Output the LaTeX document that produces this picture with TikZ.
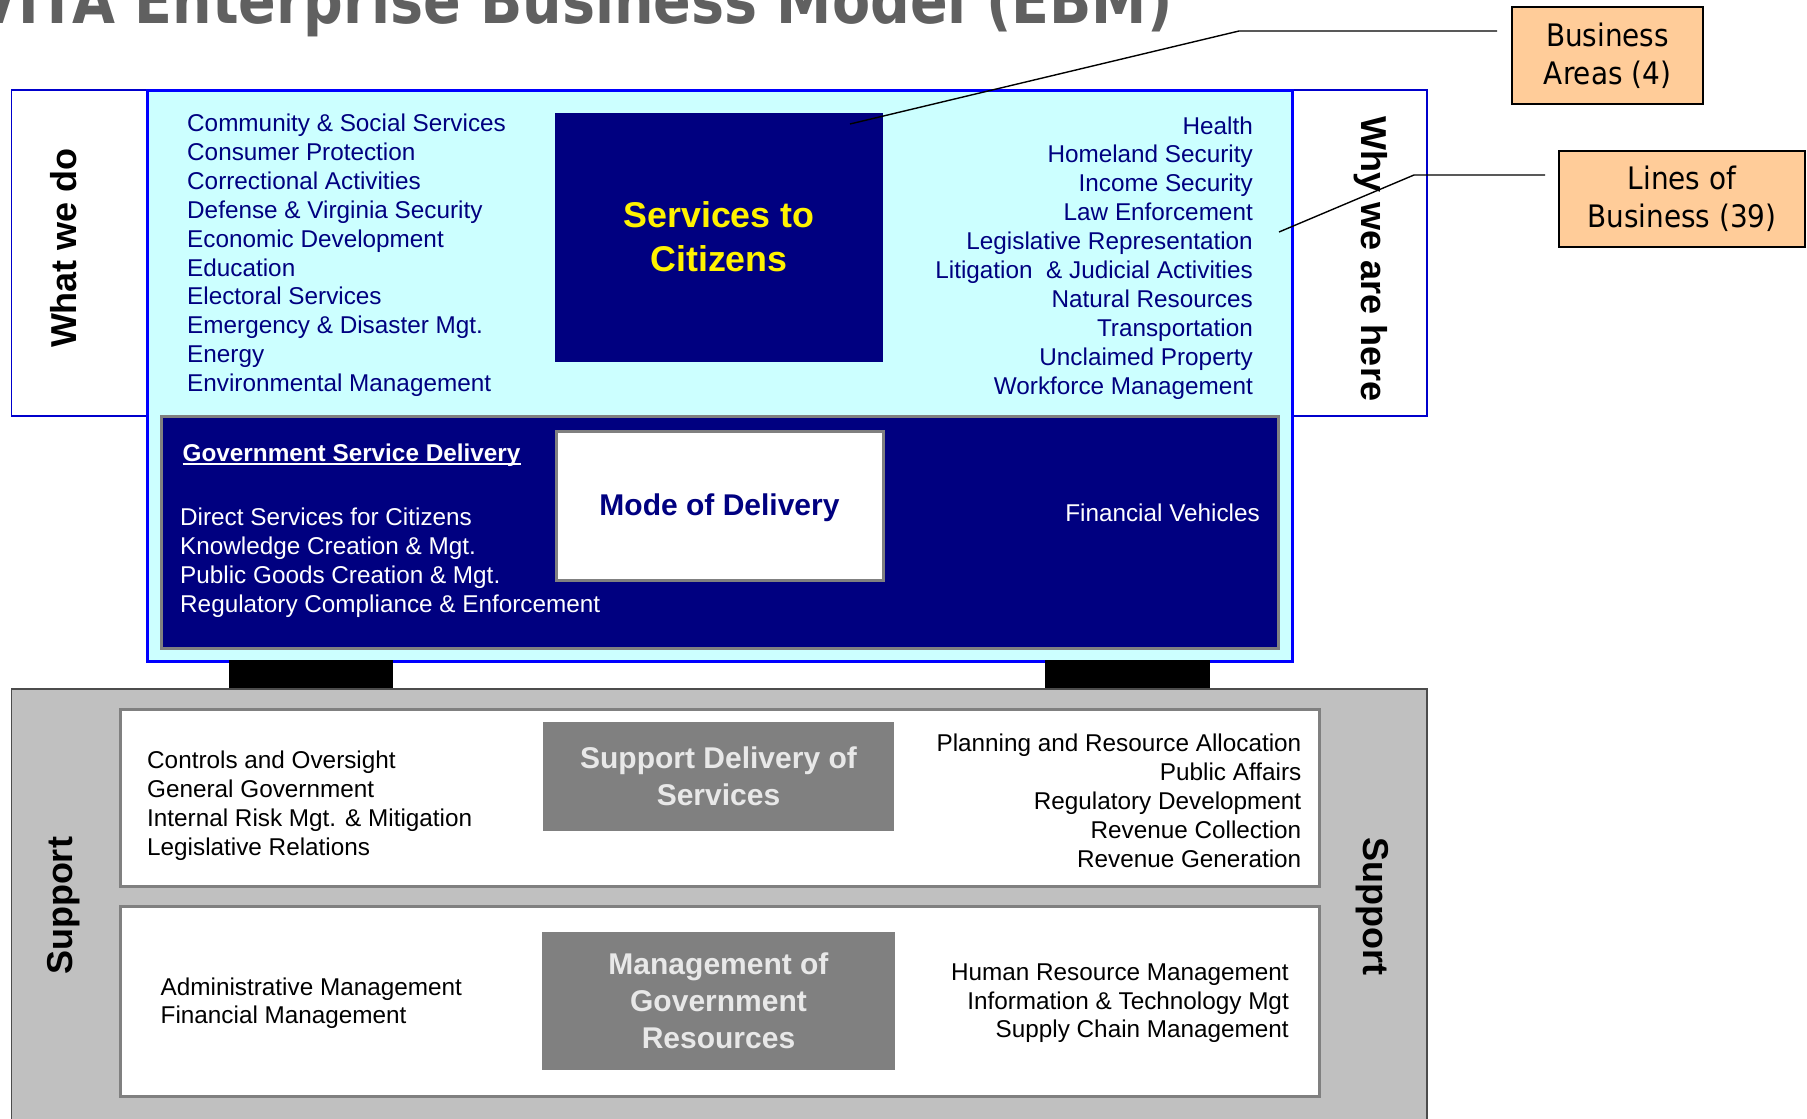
\documentclass[tikz,border=0pt]{standalone}
\usepackage{fontspec}
\setmainfont{Liberation Sans}
\newfontfamily\tah[FakeStretch=0.9]{DejaVu Sans}
\newfontfamily\tit[FakeStretch=0.86]{DejaVu Sans}
\definecolor{navy}{HTML}{000080}
\definecolor{cyanbg}{HTML}{CCFFFF}
\definecolor{peach}{HTML}{FFCC99}
\definecolor{midgray}{HTML}{808080}
\definecolor{silver}{HTML}{C0C0C0}
\definecolor{titlegray}{HTML}{606060}
\definecolor{edgeblue}{HTML}{0000FF}
\definecolor{thinblue}{HTML}{0000CC}
\definecolor{lightt}{HTML}{E8E8E8}
\tikzset{
  panel/.style={anchor=north west, inner sep=0, outer sep=0},
  list/.style={inner sep=0, font=\fontsize{24.3}{29}\selectfont},
  side/.style={inner sep=0, font=\bfseries\fontsize{36}{40}\selectfont},
  callout/.style={draw=black, line width=1.6pt, fill=peach, align=center, inner sep=0,
    font=\tah\fontsize{31}{38}\selectfont},
  pointer/.style={draw=black, line width=1.4pt},
}
\begin{document}
\begin{tikzpicture}[x=1pt,y=-1pt]
\useasboundingbox (0,0) rectangle (1807,1119);
% title
\node[anchor=base west, inner sep=0, text=titlegray, font=\tit\bfseries\fontsize{64.6}{70}\selectfont] (title) at (-25,23.5) {VITA Enterprise Business Model (EBM)};
% what we do / why we are here band
\node[panel, draw=thinblue, line width=1.2pt, fill=white, minimum width=1415.5, minimum height=326] (band) at (11.5,90) {};
\node[panel, draw=edgeblue, line width=3pt, fill=cyanbg, minimum width=1144.5, minimum height=571] (cyanbox) at (147.5,90) {};
\node[panel, fill=navy, minimum width=328, minimum height=249] (stc) at (555,113) {};
\node[align=center, text=yellow, font=\bfseries\fontsize{35.8}{44}\selectfont, inner sep=0] (stctext) at (719,237) {Services to\\Citizens};
\foreach \t [count=\i from 0] in {Community \& Social Services, Consumer Protection, Correctional Activities, Defense \& Virginia Security, Economic Development, Education, Electoral Services, Emergency \& Disaster Mgt., Energy, Environmental Management}
  \node[list, text=navy, anchor=base west] (cl\i) at (187,{131.5+28.9*\i}) {\t};
\foreach \t [count=\i from 0] in {Health, Homeland Security, Income Security, Law Enforcement, Legislative Representation, Litigation\ \ \& Judicial Activities, Natural Resources, Transportation, Unclaimed Property, Workforce Management}
  \node[list, text=navy, anchor=base east] (cr\i) at (1253,{134+28.95*\i}) {\t};
\node[rotate=90, side] (wwd) at (64,248) {What we do};
\node[rotate=-90, side] (wwh) at (1371,259) {Why we are here};
% government service delivery
\node[panel, draw=midgray, line width=3pt, fill=navy, minimum width=1117, minimum height=232] (gsdbox) at (161,416.5) {};
\node[panel, draw=midgray, line width=3pt, fill=white, minimum width=327, minimum height=149] (mod) at (556,431) {};
\node[inner sep=0, text=navy, font=\bfseries\fontsize{30}{36}\selectfont] (modtext) at (719.5,508) {Mode of Delivery};
\node[list, text=white, anchor=base west, font=\bfseries\fontsize{24.3}{29}\selectfont] (gsd) at (182.5,461) {Government Service Delivery};
\draw[white, line width=1.6pt] ([yshift=-3pt]gsd.base west) -- ([yshift=-3pt]gsd.base east);
\foreach \t [count=\i from 0] in {Direct Services for Citizens, Knowledge Creation \& Mgt., Public Goods Creation \& Mgt., Regulatory Compliance \& Enforcement}
  \node[list, text=white, anchor=base west] (gl\i) at (180,{525.5+29*\i}) {\t};
\node[list, text=white, anchor=east] (fv) at (1260,513) {Financial Vehicles};
% pillars
\node[panel, fill=black, minimum width=164.5, minimum height=30] (barl) at (228.5,660) {};
\node[panel, fill=black, minimum width=165, minimum height=30] (barr) at (1045,660) {};
% support
\node[panel, draw=black!70, line width=1.2pt, fill=silver, minimum width=1415.5, minimum height=460] (supp) at (11.5,689) {};
\node[panel, draw=midgray, line width=3pt, fill=white, minimum width=1199, minimum height=177] (sb1) at (120,709) {};
\node[panel, draw=midgray, line width=3pt, fill=white, minimum width=1199, minimum height=190] (sb2) at (120,906) {};
\node[panel, fill=midgray, minimum width=351, minimum height=109] (sds) at (543,722) {};
\node[panel, fill=midgray, minimum width=353, minimum height=138] (mgr) at (542,932) {};
\node[align=center, inner sep=0, text=lightt, font=\bfseries\fontsize{30}{37}\selectfont] (sdstext) at (718.5,776) {Support Delivery of\\Services};
\node[align=center, inner sep=0, text=lightt, font=\bfseries\fontsize{30}{37}\selectfont] (mgrtext) at (718.5,1001) {Management of\\Government\\Resources};
\foreach \t [count=\i from 0] in {Controls and Oversight, General Government, Internal Risk Mgt. \& Mitigation, Legislative Relations}
  \node[list, anchor=base west] (sl\i) at (147,{768.5+28.9*\i}) {\t};
\foreach \t [count=\i from 0] in {Planning and Resource Allocation, Public Affairs, Regulatory Development, Revenue Collection, Revenue Generation}
  \node[list, anchor=base east] (sr\i) at (1301.5,{751.5+28.9*\i}) {\t};
\foreach \t [count=\i from 0] in {Administrative Management, Financial Management}
  \node[list, anchor=base west] (ml\i) at (160.5,{995+28.7*\i}) {\t};
\foreach \t [count=\i from 0] in {Human Resource Management, Information \& Technology Mgt, Supply Chain Management}
  \node[list, anchor=base east] (mr\i) at (1289,{980.5+28.7*\i}) {\t};
\node[rotate=90, side] (supl) at (64,906) {Support};
\node[rotate=-90, side] (supr) at (1372,906) {Support};
% callouts
\node[callout, minimum width=191, minimum height=97] (ba) at (1607.5,55.5) {Business\\Areas (4)};
\node[callout, minimum width=246, minimum height=96] (lob) at (1682,199) {Lines of\\Business (39)};
\coordinate (bastart) at (1497,31);
\coordinate (bakink) at (1239,31);
\coordinate (baend) at (850,124);
\coordinate (lobstart) at (1545,175);
\coordinate (lobkink) at (1414,175);
\coordinate (lobend) at (1279,232);
\draw[pointer] (bastart) -- (bakink) -- (baend);
\draw[pointer] (lobstart) -- (lobkink) -- (lobend);
\end{tikzpicture}
\end{document}
